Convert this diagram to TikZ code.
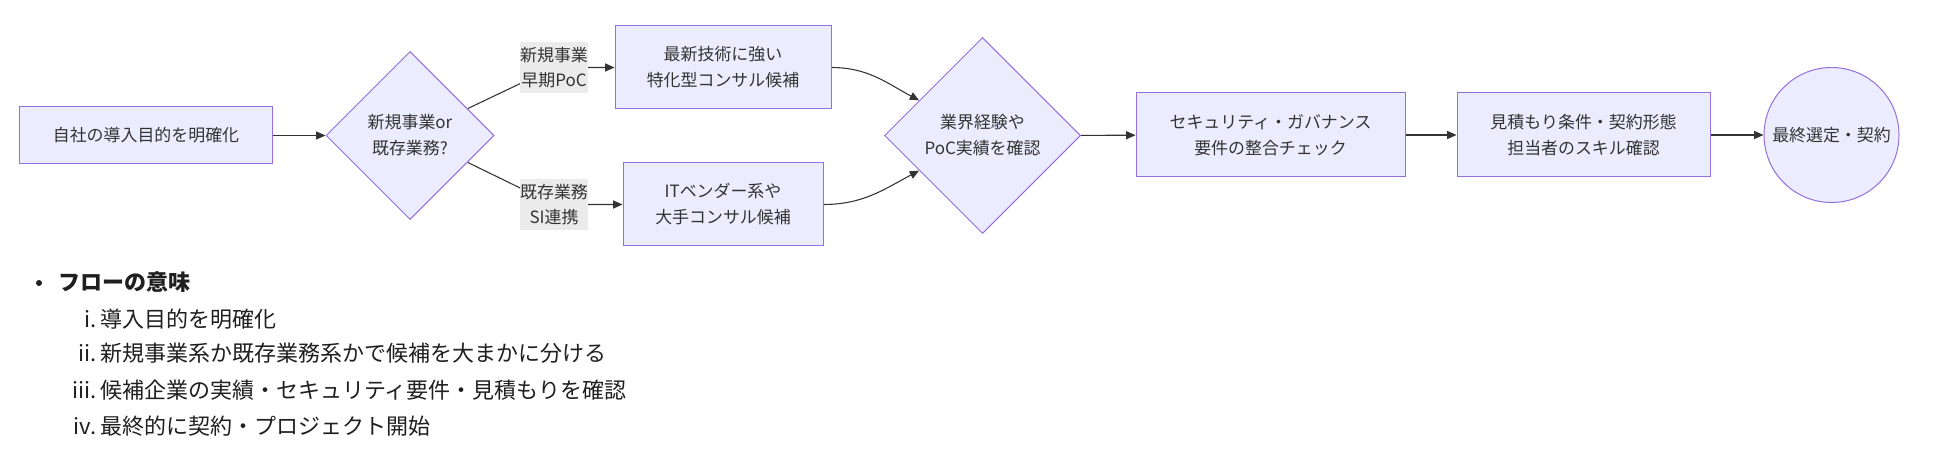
\documentclass[tikz,border=0pt]{standalone}
\usepackage{fontspec}
\setmainfont{Noto Sans CJK JP}
\usetikzlibrary{shapes.geometric,arrows.meta,backgrounds}
\definecolor{nodefill}{HTML}{ECECFF}
\definecolor{nodeline}{HTML}{9370DB}
\definecolor{labelfill}{HTML}{EBEBEB}
\definecolor{edgegray}{HTML}{333333}
\definecolor{listtext}{HTML}{1F1F1F}
\begin{document}
\begin{tikzpicture}[x=0.75pt,y=-0.75pt,
    main node/.style={rectangle,fill=nodefill,draw=nodeline,line width=0.75pt,
      text=edgegray,align=center,inner sep=2pt,
      font=\fontsize{12.7pt}{19.5pt}\selectfont},
    choice node/.style={main node,diamond,aspect=1,inner sep=0pt},
    end node/.style={main node,circle,inner sep=0pt},
    edge label/.style={fill=labelfill,text=edgegray,align=center,inner sep=0pt,
      minimum width=51pt,minimum height=38pt,
      font=\fontsize{12.7pt}{18.75pt}\selectfont},
    flow/.style={draw=edgegray,line width=0.8pt,-{Triangle[length=7pt,width=6pt]}},
    list item/.style={text=listtext,inner sep=0pt,font=\fontsize{16.5pt}{20pt}\selectfont}
  ]
  \useasboundingbox (0,0) rectangle (1938,470);

  % flow chart
  \node[main node,minimum width=189.75pt,minimum height=42.75pt] (goal) at (146,135.5) {自社の導入目的を明確化};
  \node[choice node,minimum size=126pt] (kind) at (410,135.5) {新規事業or\\既存業務?};
  \node[edge label] (lnew) at (554,67.5) {新規事業\\早期PoC};
  \node[edge label] (lold) at (554,204.5) {既存業務\\SI連携};
  \node[main node,minimum width=162pt,minimum height=62.25pt] (tech) at (723,67.5) {最新技術に強い\\特化型コンサル候補};
  \node[main node,minimum width=150pt,minimum height=62.25pt] (vendor) at (723,204.5) {ITベンダー系や\\大手コンサル候補};
  \node[choice node,minimum size=147pt] (check) at (982.5,135.5) {業界経験や\\PoC実績を確認};
  \node[main node,minimum width=201.75pt,minimum height=63pt] (secu) at (1270.5,135) {セキュリティ・ガバナンス\\要件の整合チェック};
  \node[main node,minimum width=189.75pt,minimum height=63pt] (quote) at (1583.5,135) {見積もり条件・契約形態\\担当者のスキル確認};
  \node[end node,minimum size=101.25pt] (final) at (1831.5,135) {最終選定・契約};

  \begin{scope}[on background layer]
    \fill[white] (0,0) rectangle (1938,470);
    \draw[flow] (goal) -- (kind);
    \draw[flow] (kind.25) -- (lnew.center) -- (tech.west);
    \draw[flow] (kind.-25) -- (lold.center) -- (vendor.west);
    \draw[flow] (tech.east) to[out=0,in=152] (check.151);
    \draw[flow] (vendor.east) to[out=0,in=208] (check.209);
    \draw[flow] (check) -- (secu);
    \draw[flow] (secu) -- (quote);
    \draw[flow] (quote) -- (final);
  \end{scope}

  % notes below
  \node[circle,fill=listtext,inner sep=0pt,minimum size=4.5pt] (dot) at (39,283) {};
  \node[list item,anchor=base west] (head) at (58,291) {\bfseries フローの意味};
  \node[list item,anchor=base east] (n1) at (97,327) {i.};
  \node[list item,anchor=base west] (t1) at (100,327) {導入目的を明確化};
  \node[list item,anchor=base east] (n2) at (97,361.5) {ii.};
  \node[list item,anchor=base west] (t2) at (100,361.5) {新規事業系か既存業務系かで候補を大まかに分ける};
  \node[list item,anchor=base east] (n3) at (97,398) {iii.};
  \node[list item,anchor=base west] (t3) at (100,398) {候補企業の実績・セキュリティ要件・見積もりを確認};
  \node[list item,anchor=base east] (n4) at (97,434) {iv.};
  \node[list item,anchor=base west] (t4) at (100,434) {最終的に契約・プロジェクト開始};
\end{tikzpicture}
\end{document}
